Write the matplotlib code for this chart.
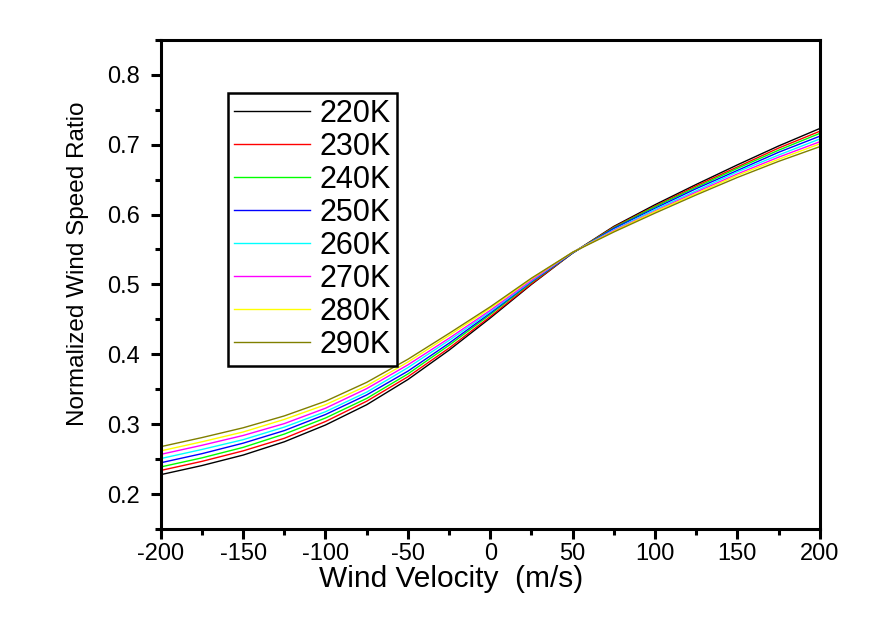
import numpy as np
import matplotlib.pyplot as plt
from matplotlib.ticker import MultipleLocator

plt.rcParams['font.family'] = ['Liberation Sans', 'DejaVu Sans']
plt.rcParams['axes.unicode_minus'] = False

# wind velocity (m/s)
velocity = [-200, -175, -150, -125, -100, -75, -50, -25, 0, 25, 50, 75, 100, 125, 150, 175, 200]

# normalized wind speed ratio
r220 = [0.228, 0.241, 0.256, 0.275, 0.299, 0.328, 0.364, 0.406, 0.452, 0.500, 0.545, 0.583, 0.614, 0.643, 0.671, 0.698, 0.723]
r230 = [0.234, 0.247, 0.262, 0.280, 0.304, 0.333, 0.368, 0.409, 0.454, 0.501, 0.545, 0.582, 0.612, 0.641, 0.668, 0.695, 0.719]
r240 = [0.239, 0.252, 0.267, 0.286, 0.309, 0.337, 0.372, 0.413, 0.457, 0.503, 0.545, 0.581, 0.611, 0.639, 0.666, 0.692, 0.716]
r250 = [0.245, 0.258, 0.273, 0.291, 0.314, 0.342, 0.376, 0.416, 0.459, 0.504, 0.545, 0.580, 0.609, 0.637, 0.663, 0.689, 0.712]
r260 = [0.251, 0.264, 0.278, 0.296, 0.318, 0.346, 0.381, 0.420, 0.461, 0.505, 0.546, 0.578, 0.607, 0.634, 0.661, 0.685, 0.708]
r270 = [0.257, 0.270, 0.284, 0.301, 0.323, 0.351, 0.385, 0.423, 0.463, 0.506, 0.546, 0.577, 0.605, 0.632, 0.658, 0.682, 0.704]
r280 = [0.262, 0.275, 0.289, 0.307, 0.328, 0.355, 0.389, 0.427, 0.466, 0.508, 0.546, 0.576, 0.604, 0.630, 0.656, 0.679, 0.701]
r290 = [0.268, 0.281, 0.295, 0.312, 0.333, 0.360, 0.393, 0.430, 0.468, 0.509, 0.546, 0.575, 0.602, 0.628, 0.653, 0.676, 0.697]

labels = ['220K', '230K', '240K', '250K', '260K', '270K', '280K', '290K']
colors = ['#000000', '#ff0000', '#00ff00', '#0000ff', '#00ffff', '#ff00ff', '#ffff00', '#808000']
series = [r220, r230, r240, r250, r260, r270, r280, r290]

fig = plt.figure(figsize=(8.93, 6.3), dpi=100)
ax = fig.add_axes([0.180, 0.160, 0.738, 0.777])

for ys, lab, c in zip(series, labels, colors):
    ax.plot(velocity, ys, color=c, lw=1.0, label=lab)

ax.set_xlim(-200, 200)
ax.set_ylim(0.15, 0.85)
ax.xaxis.set_major_locator(MultipleLocator(50))
ax.xaxis.set_minor_locator(MultipleLocator(25))
ax.set_yticks([0.2, 0.3, 0.4, 0.5, 0.6, 0.7, 0.8])
ax.yaxis.set_minor_locator(MultipleLocator(0.05))

for s in ax.spines.values():
    s.set_linewidth(2.2)
ax.tick_params(which='major', direction='out', length=7, width=2.2, labelsize=17)
ax.tick_params(axis='x', which='major', pad=3)
ax.tick_params(axis='y', which='major', pad=8)
ax.tick_params(which='minor', direction='out', length=4, width=2.2)

ax.set_xlabel('Wind Velocity  (m/s)', fontsize=21.5, labelpad=0, x=0.44)
ax.set_ylabel('Normalized Wind Speed Ratio', fontsize=17.5, labelpad=13, y=0.542)

leg = ax.legend(loc='upper left', bbox_to_anchor=(0.102, 0.892), borderaxespad=0,
                fontsize=22, handlelength=2.5, handletextpad=0.3, labelspacing=0.1,
                borderpad=0.2, fancybox=False, framealpha=1, edgecolor='black')
leg.get_frame().set_linewidth(1.8)

plt.savefig('out.png', dpi=100)
